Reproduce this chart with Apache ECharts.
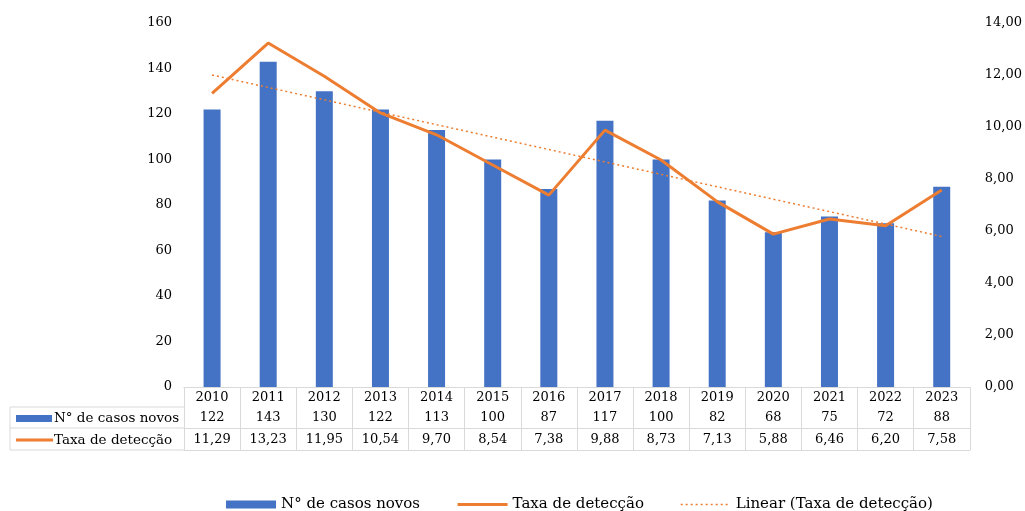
<!DOCTYPE html>
<html>
<head>
<meta charset="utf-8">
<script src="https://cdn.jsdelivr.net/npm/echarts@6/dist/echarts.min.js"></script>
<style>
  html, body { margin: 0; padding: 0; background: #fff; }
  #main { width: 1025px; height: 511px; }
</style>
</head>
<body>
<div id="main"></div>
<script>
const anos = ['2010','2011','2012','2013','2014','2015','2016','2017','2018','2019','2020','2021','2022','2023'];
const casosNovos = [122, 143, 130, 122, 113, 100, 87, 117, 100, 82, 68, 75, 72, 88];
const taxaDeteccao = [11.29, 13.23, 11.95, 10.54, 9.70, 8.54, 7.38, 9.88, 8.73, 7.13, 5.88, 6.46, 6.20, 7.58];
// tendência linear: extremos
const tendencia = [['2010', 12.0], ['2023', 5.79]];

const fonte = '"DejaVu Serif", "Liberation Serif", serif';
const azul = '#4472C4', laranja = '#ED7D31', cinza = '#d9d9d9';
const virgula = v => v.toFixed(2).replace('.', ',');

const chart = echarts.init(document.getElementById('main'));

const option = {
  animation: false,
  textStyle: { fontFamily: fonte, color: '#000' },
  grid: { left: 184, right: 52, top: 23, bottom: 124 },
  legend: {
    left: 221, top: 492,
    itemWidth: 50, itemHeight: 8, itemGap: 36,
    textStyle: { fontFamily: fonte, fontSize: 15, color: '#000' },
    data: [
      { name: 'N° de casos novos', icon: 'rect' },
      { name: 'Taxa de detecção', itemStyle: { opacity: 0 }, lineStyle: { width: 3 } },
      { name: 'Linear (Taxa de detecção)', itemStyle: { opacity: 0 }, lineStyle: { width: 1.5 } }
    ]
  },
  xAxis: [
    {
      type: 'category', data: anos, position: 'bottom',
      axisLine: { lineStyle: { color: cinza } },
      axisTick: { show: true, length: 63, lineStyle: { color: cinza } },
      axisLabel: { interval: 0, margin: 4, fontSize: 13, color: '#000', fontFamily: fonte }
    },
    {
      type: 'category', data: casosNovos.map(String), position: 'bottom', offset: 20,
      axisLine: { lineStyle: { color: cinza } }, axisTick: { show: false },
      axisLabel: { interval: 0, margin: 4, fontSize: 13, color: '#000', fontFamily: fonte }
    },
    {
      type: 'category', data: taxaDeteccao.map(virgula), position: 'bottom', offset: 41,
      axisLine: { lineStyle: { color: cinza } }, axisTick: { show: false },
      axisLabel: { interval: 0, margin: 5, fontSize: 13, color: '#000', fontFamily: fonte }
    },
    {
      type: 'category', data: anos, position: 'bottom', offset: 63,
      axisLine: { lineStyle: { color: cinza } }, axisTick: { show: false },
      axisLabel: { show: false }
    }
  ],
  yAxis: [
    {
      type: 'value', min: 0, max: 160, interval: 20,
      axisLine: { show: false }, axisTick: { show: false }, splitLine: { show: false },
      axisLabel: { margin: 12, fontSize: 13, color: '#000', fontFamily: fonte }
    },
    {
      type: 'value', min: 0, max: 14, interval: 2, position: 'right',
      axisLine: { show: false }, axisTick: { show: false }, splitLine: { show: false },
      axisLabel: { margin: 15, fontSize: 13, color: '#000', fontFamily: fonte, formatter: virgula }
    }
  ],
  series: [
    {
      name: 'N° de casos novos', type: 'bar', data: casosNovos,
      barWidth: 17, itemStyle: { color: azul }
    },
    {
      name: 'Taxa de detecção', type: 'line', yAxisIndex: 1, data: taxaDeteccao,
      symbol: 'none', lineStyle: { color: laranja, width: 3 }, itemStyle: { color: laranja }
    },
    {
      name: 'Linear (Taxa de detecção)', type: 'line', yAxisIndex: 1, data: tendencia,
      symbol: 'none', lineStyle: { color: laranja, width: 1.5, type: [2, 3] }, itemStyle: { color: laranja }
    }
  ],
  graphic: [
    // coluna de cabeçalho da tabela
    { type: 'line', shape: { x1: 10, y1: 407, x2: 184, y2: 407 }, style: { stroke: cinza, lineWidth: 1 } },
    { type: 'line', shape: { x1: 10, y1: 428, x2: 184, y2: 428 }, style: { stroke: cinza, lineWidth: 1 } },
    { type: 'line', shape: { x1: 10, y1: 450, x2: 184, y2: 450 }, style: { stroke: cinza, lineWidth: 1 } },
    { type: 'line', shape: { x1: 10, y1: 407, x2: 10, y2: 450 }, style: { stroke: cinza, lineWidth: 1 } },
    { type: 'rect', shape: { x: 16, y: 415, width: 36, height: 7 }, style: { fill: azul } },
    { type: 'line', shape: { x1: 16, y1: 440, x2: 53, y2: 440 }, style: { stroke: laranja, lineWidth: 3 } },
    { type: 'text', x: 54, y: 418, style: { text: 'N° de casos novos', font: '13.5px ' + fonte, fill: '#000', textVerticalAlign: 'middle' } },
    { type: 'text', x: 54, y: 440, style: { text: 'Taxa de detecção', font: '13.5px ' + fonte, fill: '#000', textVerticalAlign: 'middle' } }
  ]
};

chart.setOption(option);
</script>
</body>
</html>
